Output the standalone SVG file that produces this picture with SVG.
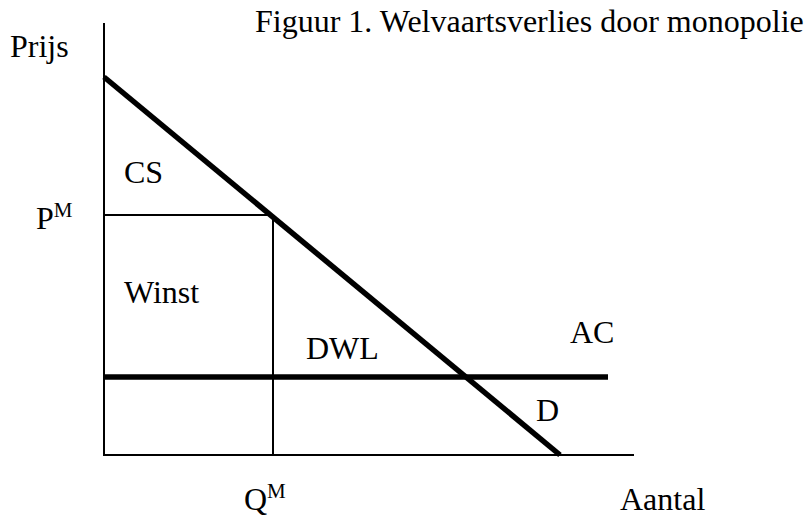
<svg xmlns="http://www.w3.org/2000/svg" width="811" height="524" viewBox="0 0 811 524">
<style>
text{font-family:"Liberation Serif","Times New Roman",serif;font-size:32px;fill:#000}
.sup{font-size:21px}
.thin{stroke:#000;stroke-width:2;fill:none}
.thick{stroke:#000;stroke-width:5.5;fill:none}
</style>
<rect width="811" height="524" fill="#fff"/>
<g id="connectors">
<line class="thin" x1="104" y1="23" x2="104" y2="456"/>
<line class="thin" x1="103" y1="455" x2="634" y2="455"/>
<line class="thin" x1="104" y1="215" x2="273" y2="215"/>
<line class="thin" x1="273" y1="215" x2="273" y2="455"/>
<line class="thick" x1="104" y1="377" x2="608" y2="377"/>
<line class="thick" x1="104" y1="77" x2="560" y2="455"/>
</g>
<g id="title"><text x="255" y="32">Figuur 1. Welvaartsverlies door monopolie</text></g>
<g id="prijs"><text x="10" y="57">Prijs</text></g>
<g id="cs"><text x="124" y="183">CS</text></g>
<g id="pm"><text x="36" y="229">P<tspan class="sup" dy="-12">M</tspan></text></g>
<g id="winst"><text x="124" y="303">Winst</text></g>
<g id="dwl"><text x="306" y="359">DWL</text></g>
<g id="ac"><text x="570" y="343">AC</text></g>
<g id="d"><text x="536" y="421">D</text></g>
<g id="qm"><text x="244" y="510">Q<tspan class="sup" dy="-12">M</tspan></text></g>
<g id="aantal"><text x="620" y="510">Aantal</text></g>
</svg>
